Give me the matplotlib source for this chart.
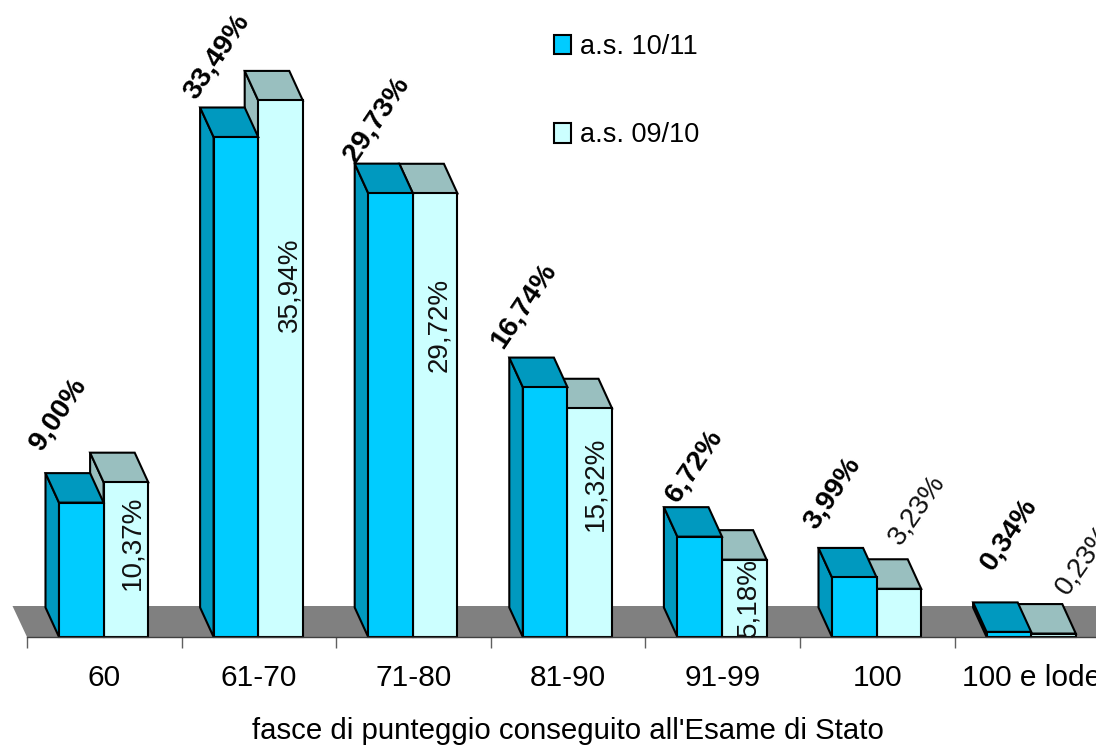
import matplotlib
matplotlib.use("Agg")
import matplotlib.pyplot as plt
from matplotlib.patches import Patch

plt.rcParams['font.family'] = ['Liberation Sans', 'DejaVu Sans']

# Data
categories = ['60', '61-70', '71-80', '81-90', '91-99', '100', '100 e lode']
as_1011 = [9.00, 33.49, 29.73, 16.74, 6.72, 3.99, 0.34]
as_0910 = [10.37, 35.94, 29.72, 15.32, 5.18, 3.23, 0.23]

# Scale of the picture
W, H = 1096, 745
X0, Y0 = 27, 637        # pixel of the chart origin
PX_CAT = 154.6          # pixels per category
PX_PCT = 14.93          # pixels per percent
DX = -13.5 / PX_CAT     # depth of the 3d bars
DY = 29.5 / PX_PCT
FLOOR_DY = 31 / PX_PCT
BAR_W = 44.6 / PX_CAT
BAR_START = 32 / PX_CAT
LW = 1.5

# Label placement, pixels from the bar top
off_1011 = [(-1, 88), (3, 80), (8, 74), (1, 82), (17, 71), (0, 84), (22, 98)]
off_0910 = [(6, -61), (9, -184), (4, -132), (6, -76), (4, -38), (18, 79), (30, 74)]
rot_0910 = [90, 90, 90, 90, 90, 55, 55]


def fmt(v):
    return f"{v:.2f}%".replace('.', ',')


def bar3d(ax, x, v, front, shade):
    ax.fill([x, x + DX, x + DX, x], [0, DY, v + DY, v], fc=shade, ec='k', lw=LW)
    ax.fill([x, x + DX, x + DX + BAR_W, x + BAR_W], [v, v + DY, v + DY, v], fc=shade, ec='k', lw=LW)
    ax.bar(x, v, BAR_W, align='edge', color=front, edgecolor='k', linewidth=LW)


fig = plt.figure(figsize=(W / 100, H / 100), dpi=100)
ax = fig.add_axes([0, 0, 1, 1])
ax.patch.set_alpha(0)
ax.set_xlim(-X0 / PX_CAT, (W - X0) / PX_CAT)
ax.set_ylim(-(H - Y0) / PX_PCT, Y0 / PX_PCT)

# Floor
floor_end = (W + 30 - X0) / PX_CAT
ax.fill([0, -14.5 / PX_CAT, floor_end - 14.5 / PX_CAT, floor_end], [0, FLOOR_DY, FLOOR_DY, 0], fc='#808080', ec='none')

for i in range(len(categories)):
    x = i + BAR_START
    bar3d(ax, x + BAR_W, as_0910[i], '#CCFFFF', '#99BFBF')
    bar3d(ax, x, as_1011[i], '#00CCFF', '#0099BF')

    ax.annotate(fmt(as_1011[i]), (x, as_1011[i]), xytext=off_1011[i], textcoords='offset pixels',
                rotation=56, ha='center', va='center', rotation_mode='anchor',
                fontsize=20.5, fontweight='bold', color='k')
    ax.annotate(fmt(as_0910[i]), (x + 1.5 * BAR_W, as_0910[i]), xytext=off_0910[i], textcoords='offset pixels',
                rotation=rot_0910[i], ha='center', va='center', rotation_mode='anchor',
                fontsize=20, color='#111111')

# Axis
for s in ['left', 'right', 'top']:
    ax.spines[s].set_visible(False)
ax.spines['bottom'].set_position(('data', 0))
ax.spines['bottom'].set_color('#404040')
ax.spines['bottom'].set_linewidth(1)
ax.spines['bottom'].set_bounds(0, (W - X0) / PX_CAT)
ax.set_yticks([])
ax.set_xticks(range(len(categories)), [''] * len(categories))
ax.tick_params(axis='x', which='major', length=8, width=1, color='#606060')
ax.set_xticks([i + 0.5 for i in range(len(categories))], categories, minor=True)
ax.tick_params(axis='x', which='minor', length=0, pad=19.5, labelsize=21.5)

ax.set_xlabel("fasce di punteggio conseguito all'Esame di Stato", fontsize=21.2, va='center')
ax.xaxis.set_label_coords(568 / W, (H - 731) / H)

# Legend
handles = [Patch(fc='#00CCFF', ec='k', lw=LW), Patch(fc='#CCFFFF', ec='k', lw=LW)]
ax.legend(handles, ['a.s. 10/11', 'a.s. 09/10'], loc='upper left', bbox_to_anchor=(554 / W, (H - 34) / H),
          frameon=False, fontsize=19.5, labelspacing=2.3, handlelength=0.62, handleheight=0.75,
          handletextpad=0.35, borderpad=0, borderaxespad=0)

fig.savefig("out.png", dpi=100)
